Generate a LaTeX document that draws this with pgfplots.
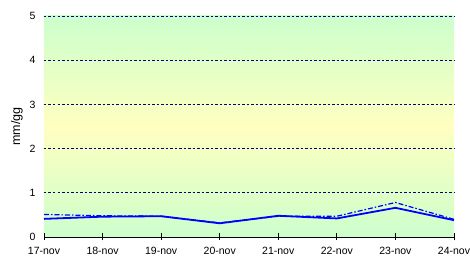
\documentclass[border=0pt]{standalone}
\usepackage{pgfplots}
\pgfplotsset{compat=1.18}
\usepackage{fontspec}
\setmainfont{Liberation Sans}
\definecolor{lgreen}{RGB}{204,255,204}
\definecolor{lyellow}{RGB}{255,255,192}
\definecolor{gridnavy}{RGB}{0,0,128}
\begin{document}
\begin{tikzpicture}
\begin{axis}[
  name=ax,
  scale only axis, width=410pt, height=221pt,
  xmin=0, xmax=7, ymin=0, ymax=5,
  xtick={0,...,7},
  xticklabels={17-nov,18-nov,19-nov,20-nov,21-nov,22-nov,23-nov,24-nov},
  ytick={0,1,2,3,4,5},
  axis x line*=bottom, axis y line*=left,
  y axis line style={draw=none},
  ytick style={draw=none},
  xtick align=center, major tick length=7pt,
  x axis line style={black, line width=0.8pt, -},
  xtick style={black, line width=0.8pt},
  ymajorgrids, grid style={gridnavy, dash pattern=on 2.5pt off 2pt, line width=0.7pt},
  axis background/.style={shade, top color=lgreen, bottom color=lgreen, middle color=lyellow},
  ticklabel style={font=\fontsize{10.5}{12}\selectfont},
  yticklabel style={xshift=-5pt},
  /pgf/number format/assume math mode=true,
  ylabel={mm/gg}, ylabel style={font=\fontsize{12.5}{14}\selectfont, yshift=0pt},
  xticklabel style={yshift=-3pt},
  clip=false,
]
\addplot[blue, line width=1.2pt, dash pattern=on 5pt off 2pt on 1.5pt off 2pt] coordinates {
 (0,0.51) (1,0.48) (2,0.47) (3,0.32) (4,0.47) (5,0.47) (6,0.78) (7,0.40)};
\addplot[blue, line width=1.8pt] coordinates {
 (0,0.41) (1,0.46) (2,0.47) (3,0.31) (4,0.48) (5,0.42) (6,0.66) (7,0.38)};
\end{axis}
\pgfresetboundingbox
\path[use as bounding box] ([shift={(-44pt,-24pt)}]ax.south west) rectangle ([shift={(16pt,16pt)}]ax.north east);
\end{tikzpicture}
\end{document}
